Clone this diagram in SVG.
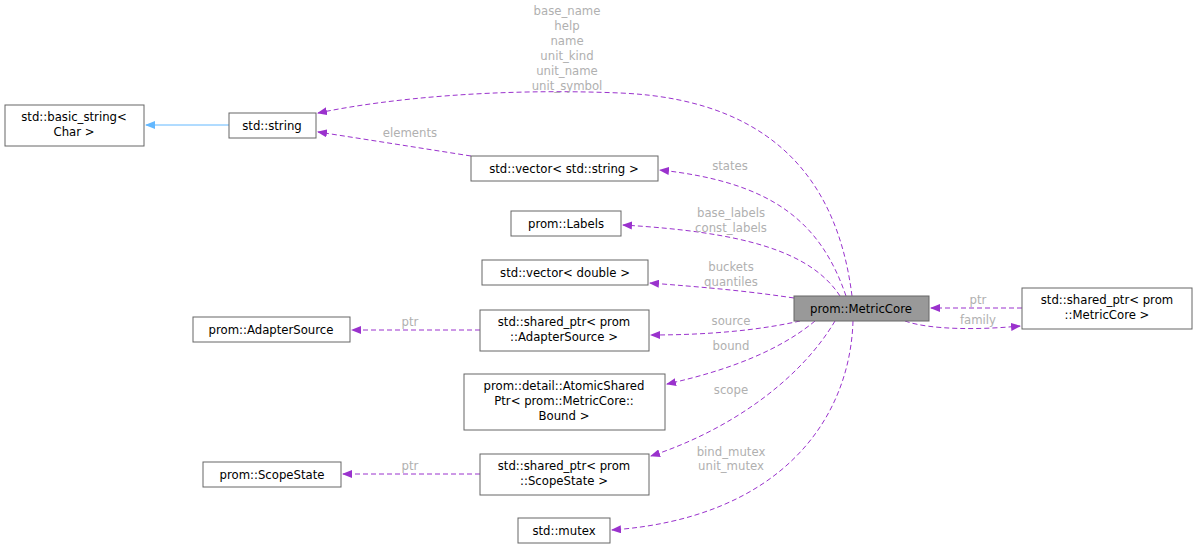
<svg xmlns="http://www.w3.org/2000/svg" width="1197" height="550" viewBox="0 0 1197 550">
<style>
.n rect{fill:#fff;stroke:#666;stroke-width:1}
text{font-family:"DejaVu Sans",sans-serif;font-size:11.7px;text-anchor:middle;fill:#000}
.l{fill:#b0b0b0}
.e{fill:none;stroke:#9a32cd;stroke-dasharray:5,3;stroke-width:1}
</style>
<defs>
<marker id="p" markerWidth="10" markerHeight="8" refX="9" refY="4" orient="auto" markerUnits="userSpaceOnUse"><path d="M0,0 L10,4 L0,8 z" fill="#9a32cd"/></marker>
<marker id="b" markerWidth="10" markerHeight="8" refX="9" refY="4" orient="auto" markerUnits="userSpaceOnUse"><path d="M0,0 L10,4 L0,8 z" fill="#63b8ff"/></marker>
</defs>
<rect width="1197" height="550" fill="#fff"/>
<g id="edges">
<path d="M229,125 L146,125" stroke="#63b8ff" fill="none" marker-end="url(#b)"/>
<path class="e" d="M852,296 C840,200 790,100 620,93 C500,88 390,98 318,113" marker-end="url(#p)"/>
<path class="e" d="M471,156 C420,148 370,140 318,132" marker-end="url(#p)"/>
<path class="e" d="M846,296 C820,220 770,182 660,170" marker-end="url(#p)"/>
<path class="e" d="M840,296 C810,250 740,232 623,225" marker-end="url(#p)"/>
<path class="e" d="M794,298 C740,290 700,287 650,283" marker-end="url(#p)"/>
<path class="e" d="M800,321 C760,330 710,335 651,335" marker-end="url(#p)"/>
<path class="e" d="M480,330 L352,330" marker-end="url(#p)"/>
<path class="e" d="M815,321 C780,350 730,370 667,384" marker-end="url(#p)"/>
<path class="e" d="M835,321 C800,380 730,430 651,456" marker-end="url(#p)"/>
<path class="e" d="M480,474 L343,474" marker-end="url(#p)"/>
<path class="e" d="M853,321 C850,420 780,518 612,530" marker-end="url(#p)"/>
<path class="e" d="M1022,308 L931,308" marker-end="url(#p)"/>
<path class="e" d="M905,321 C930,330 980,330 1020,326" marker-end="url(#p)"/>
<g class="lbl">
<text class="l" x="567" y="15">base_name</text>
<text class="l" x="567" y="30">help</text>
<text class="l" x="567" y="45">name</text>
<text class="l" x="567" y="60">unit_kind</text>
<text class="l" x="567" y="75">unit_name</text>
<text class="l" x="567" y="90">unit_symbol</text>
<text class="l" x="410" y="137">elements</text>
<text class="l" x="730" y="170">states</text>
<text class="l" x="731" y="217">base_labels</text>
<text class="l" x="731" y="232">const_labels</text>
<text class="l" x="731" y="271">buckets</text>
<text class="l" x="731" y="286">quantiles</text>
<text class="l" x="731" y="325">source</text>
<text class="l" x="410" y="326">ptr</text>
<text class="l" x="731" y="350">bound</text>
<text class="l" x="731" y="394">scope</text>
<text class="l" x="410" y="470">ptr</text>
<text class="l" x="731" y="456">bind_mutex</text>
<text class="l" x="731" y="470">unit_mutex</text>
<text class="l" x="978" y="304">ptr</text>
<text class="l" x="978" y="324">family</text>
</g>
</g>
<g id="basic_string" class="n"><rect x="5" y="105" width="139" height="41"/><text x="74" y="121">std::basic_string&lt;</text><text x="74" y="136">Char &gt;</text></g>
<g id="string" class="n"><rect x="229" y="113" width="87" height="25"/><text x="272" y="130">std::string</text></g>
<g id="vec_string" class="n"><rect x="471" y="156" width="187" height="25"/><text x="564" y="173">std::vector&lt; std::string &gt;</text></g>
<g id="labels" class="n"><rect x="511" y="211" width="110" height="25"/><text x="566" y="228">prom::Labels</text></g>
<g id="vec_double" class="n"><rect x="482" y="260" width="166" height="25"/><text x="565" y="277">std::vector&lt; double &gt;</text></g>
<g id="adapter" class="n"><rect x="193" y="317" width="157" height="25"/><text x="271" y="334">prom::AdapterSource</text></g>
<g id="sp_adapter" class="n"><rect x="480" y="310" width="169" height="41"/><text x="564" y="326">std::shared_ptr&lt; prom</text><text x="564" y="341">::AdapterSource &gt;</text></g>
<g id="atomic" class="n"><rect x="464" y="374" width="201" height="56"/><text x="564" y="390">prom::detail::AtomicShared</text><text x="564" y="405">Ptr&lt; prom::MetricCore::</text><text x="564" y="420">Bound &gt;</text></g>
<g id="scope" class="n"><rect x="203" y="462" width="138" height="25"/><text x="272" y="479">prom::ScopeState</text></g>
<g id="sp_scope" class="n"><rect x="480" y="454" width="169" height="41"/><text x="564" y="470">std::shared_ptr&lt; prom</text><text x="564" y="485">::ScopeState &gt;</text></g>
<g id="mutex" class="n"><rect x="518" y="518" width="92" height="25"/><text x="564" y="535">std::mutex</text></g>
<g id="metriccore" class="n"><rect x="794" y="296" width="135" height="25" style="fill:#999"/><text x="861" y="313">prom::MetricCore</text></g>
<g id="sp_metric" class="n"><rect x="1022" y="288" width="170" height="41"/><text x="1107" y="304">std::shared_ptr&lt; prom</text><text x="1107" y="319">::MetricCore &gt;</text></g>
</svg>
